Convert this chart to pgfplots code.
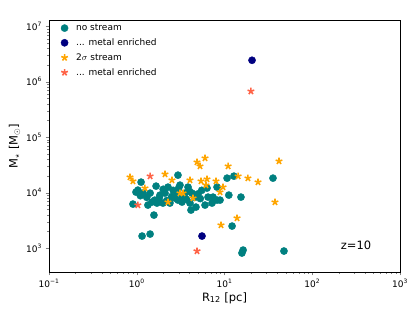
\documentclass[border=0pt]{standalone}
\usepackage{pgfplots}
\pgfplotsset{compat=1.18}
\usepackage{fontspec}
\setmainfont{DejaVu Sans}
\definecolor{mteal}{RGB}{0,128,128}
\definecolor{mnavy}{RGB}{0,0,128}
\definecolor{morange}{RGB}{255,165,0}
\definecolor{mtomato}{RGB}{255,99,71}
\begin{document}
\begin{tikzpicture}
\useasboundingbox (-49pt,-41pt) rectangle (366pt,272pt);
\begin{axis}[
  at={(0pt,0pt)}, anchor=south west,
  width=351pt, height=252pt, scale only axis,
  xmode=log, ymode=log,
  xmin=0.1, xmax=1000, ymin=370, ymax=1.3e7,
  tick pos=left, tick align=outside,
  major tick length=3.5pt, minor tick length=2pt,
  xtick={0.1,1,10,100,1000},
  xticklabels={10\textsuperscript{−1},10\textsuperscript{0},10\textsuperscript{1},10\textsuperscript{2},10\textsuperscript{3}},
  ytick={1e3,1e4,1e5,1e6,1e7},
  yticklabels={10\textsuperscript{3},10\textsuperscript{4},10\textsuperscript{5},10\textsuperscript{6},10\textsuperscript{7}},
  ticklabel style={font=\fontsize{9}{10}\selectfont},
  xlabel={R\textsubscript{12} [pc]},
  ylabel={M$_\star$ [M$_\odot$]},
  label style={font=\fontsize{11.5}{13}\selectfont},
  xlabel style={yshift=2pt},
  ylabel style={yshift=-1pt},
  legend style={draw=none, fill=none, at={(0.025,1.0)}, anchor=north west,
    font=\fontsize{9}{10}\selectfont, row sep=2.6pt, column sep=6pt},
  legend cell align=left,
]
\addplot[only marks, mark=*, mark size=3.6pt, color=mteal, mark options={draw=mteal, fill=mteal}] coordinates {
(1.12,15460) (2.95,20660) (0.98,10210) (1.03,11100) (1.66,13100) (2.27,12570)
(3.11,13650) (3.84,12570) (1.42,9795) (1.18,9795) (1.84,9016) (2.10,9795)
(2.88,10210) (2.73,7962) (3.55,9795) (4.26,9795) (0.905,6210) (1.34,5958)
(1.49,6746) (1.70,6473) (1.99,6473) (2.39,6473) (2.95,7329) (3.28,6746)
(4.04,6473) (4.73,5484) (4.15,4840) (1.57,3932) (6.32,12060) (6.49,8299)
(7.40,8299) (6.00,5958) (7.21,6473) (8.22,7329) (8.89,7329) (8.22,12570)
(10.7,18250) (12.8,19820) (11.2,9016) (15.4,8299) (35.7,18250) (12.2,2491)
(1.15,1645) (1.42,1788) (16.3,920) (15.8,813) (47.6,883)
(1.8,8000) (2.5,8500) (3.3,8800) (2.2,7200) (1.3,8200) (2.0,11500) (4.6,8200)
(5.3,7800) (3.7,7600) (2.6,11000) (5.0,9500) (1.6,7300) (3.0,12000) (4.0,10500)
(1.1,8800) (5.5,11000)
};
\addlegendentry{no stream}
\addplot[only marks, mark=*, mark size=3.6pt, color=mnavy, mark options={draw=mnavy, fill=mnavy}] coordinates {
(20.6,2.44e6) (5.54,1645)
};
\addlegendentry{... metal enriched}
\addplot[only marks, mark=star, mark size=3.5pt, color=morange, mark options={draw=morange, fill=morange, line width=1.6pt}] coordinates {
(0.838,19020) (0.905,16120) (1.24,12060) (2.10,21540) (2.52,16800) (4.86,35450)
(5.26,30000) (6.00,41900) (4.04,16800) (5.40,16120) (6.32,17510) (6.15,13650)
(3.11,9795) (3.37,9795) (2.27,6746) (4.38,7962) (8.00,16120) (9.62,12570)
(8.89,10210) (11.0,30000) (14.3,19820) (18.5,18250) (24.1,15460) (41.8,36950)
(37.6,6746) (13.9,3473) (9.12,2597)
};
\addlegendentry{2$\sigma$ stream}
\addplot[only marks, mark=star, mark size=3.5pt, color=mtomato, mark options={draw=mtomato, fill=mtomato, line width=1.6pt}] coordinates {
(20.0,6.74e5) (1.42,19820) (1.03,5958) (4.86,883)
};
\addlegendentry{... metal enriched}
\node[font=\fontsize{11.5}{13}\selectfont] at (axis cs:316,1130) {z=10};
\end{axis}
\end{tikzpicture}
\end{document}
